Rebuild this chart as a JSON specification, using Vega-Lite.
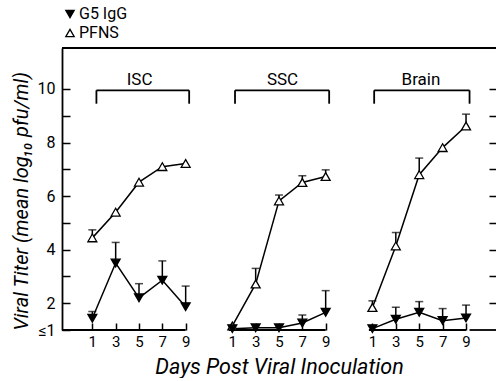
{
  "$schema": "https://vega.github.io/schema/vega-lite/v6.json",
  "padding": {"left": 11, "top": 6, "right": 0, "bottom": 0},
  "background": "white",
  "bounds": "flush",
  "spacing": 0,
  "config": {
    "view": {"stroke": null},
    "font": "Roboto",
    "axis": {
      "grid": false,
      "domainColor": "black",
      "tickColor": "black",
      "labelColor": "black",
      "titleColor": "black",
      "domainWidth": 1.8,
      "ticks": true,
      "tickWidth": 1.5,
      "tickCount": 40,
      "format": "d",
      "labelFont": "Roboto",
      "titleFont": "Roboto",
      "labelFontSize": 15,
      "titleFontSize": 20,
      "titleFontWeight": "normal",
      "titleFontStyle": "italic",
      "labelFlush": false,
      "labelOverlap": false
    }
  },
  "datasets": {
    "titers": [
      {"site": "ISC", "series": "PFNS", "day": 1, "titer": 4.44, "upper": 4.74},
      {"site": "ISC", "series": "PFNS", "day": 3, "titer": 5.40, "upper": null},
      {"site": "ISC", "series": "PFNS", "day": 5, "titer": 6.52, "upper": null},
      {"site": "ISC", "series": "PFNS", "day": 7, "titer": 7.10, "upper": null},
      {"site": "ISC", "series": "PFNS", "day": 9, "titer": 7.22, "upper": null},
      {"site": "ISC", "series": "G5 IgG", "day": 1, "titer": 1.44, "upper": 1.69},
      {"site": "ISC", "series": "G5 IgG", "day": 3, "titer": 3.50, "upper": 4.27},
      {"site": "ISC", "series": "G5 IgG", "day": 5, "titer": 2.20, "upper": 2.73},
      {"site": "ISC", "series": "G5 IgG", "day": 7, "titer": 2.86, "upper": 3.58},
      {"site": "ISC", "series": "G5 IgG", "day": 9, "titer": 1.87, "upper": 2.64},
      {"site": "SSC", "series": "PFNS", "day": 1, "titer": 1.15, "upper": null},
      {"site": "SSC", "series": "PFNS", "day": 3, "titer": 2.72, "upper": 3.30},
      {"site": "SSC", "series": "PFNS", "day": 5, "titer": 5.82, "upper": 6.04},
      {"site": "SSC", "series": "PFNS", "day": 7, "titer": 6.51, "upper": 6.76},
      {"site": "SSC", "series": "PFNS", "day": 9, "titer": 6.73, "upper": 6.98},
      {"site": "SSC", "series": "G5 IgG", "day": 1, "titer": 1.05, "upper": null},
      {"site": "SSC", "series": "G5 IgG", "day": 3, "titer": 1.08, "upper": null},
      {"site": "SSC", "series": "G5 IgG", "day": 5, "titer": 1.08, "upper": null},
      {"site": "SSC", "series": "G5 IgG", "day": 7, "titer": 1.26, "upper": 1.56},
      {"site": "SSC", "series": "G5 IgG", "day": 9, "titer": 1.66, "upper": 2.47},
      {"site": "Brain", "series": "PFNS", "day": 1, "titer": 1.84, "upper": 2.09},
      {"site": "Brain", "series": "PFNS", "day": 3, "titer": 4.14, "upper": 4.64},
      {"site": "Brain", "series": "PFNS", "day": 5, "titer": 6.80, "upper": 7.42},
      {"site": "Brain", "series": "PFNS", "day": 7, "titer": 7.81, "upper": null},
      {"site": "Brain", "series": "PFNS", "day": 9, "titer": 8.62, "upper": 9.06},
      {"site": "Brain", "series": "G5 IgG", "day": 1, "titer": 1.05, "upper": null},
      {"site": "Brain", "series": "G5 IgG", "day": 3, "titer": 1.40, "upper": 1.85},
      {"site": "Brain", "series": "G5 IgG", "day": 5, "titer": 1.66, "upper": 2.06},
      {"site": "Brain", "series": "G5 IgG", "day": 7, "titer": 1.35, "upper": 1.80},
      {"site": "Brain", "series": "G5 IgG", "day": 9, "titer": 1.45, "upper": 1.93}
    ]
  },
  "hconcat": [
    {
      "width": 147,
      "height": 282,
      "layer": [
        {
          "data": {"values": [{}]},
          "mark": {"type": "rule", "color": "black", "strokeWidth": 1.8},
          "encoding": {
            "x": {"datum": -1.6, "type": "quantitative", "scale": {"domain": [-1.6, 11], "nice": false, "zero": false},
              "axis": {"values": [1, 3, 5, 7, 9], "tickCount": 40, "format": "d", "domain": false, "tickSize": -7, "labelPadding": 11, "title": null}},
            "x2": {"datum": 11},
            "y": {"datum": 11.53, "type": "quantitative", "scale": {"domain": [1, 11.53], "nice": false, "zero": false},
              "axis": {"orient": "left", "values": [1, 2, 3, 4, 5, 6, 7, 8, 9, 10], "tickCount": 40, "format": "d",
                "labelExpr": "datum.value == 1 ? '≤1' : (datum.value % 2 == 0 ? datum.label : '')",
                "tickSize": -8, "labelPadding": 15, "labelFontSize": 16,
                "title": "Viral Titer (mean log₁₀ pfu/ml)", "titleAnchor": "start", "titleX": -31}}
          }
        },
        {
          "data": {"values": [{}]},
          "mark": {"type": "rule", "color": "black", "strokeWidth": 1.8},
          "encoding": {"x": {"datum": -1.6}, "x2": {"datum": 9}, "y": {"datum": 1}}
        },
        {
          "data": {"values": [{}]},
          "mark": {"type": "rule", "color": "black", "strokeWidth": 1.8},
          "encoding": {"x": {"datum": 1.35}, "x2": {"datum": 9.3}, "y": {"datum": 9.95}}
        },
        {
          "data": {"values": [{}]},
          "mark": {"type": "rule", "color": "black", "strokeWidth": 1.8},
          "encoding": {"x": {"datum": 1.35}, "y": {"datum": 9.45}, "y2": {"datum": 9.95}}
        },
        {
          "data": {"values": [{}]},
          "mark": {"type": "rule", "color": "black", "strokeWidth": 1.8},
          "encoding": {"x": {"datum": 9.3}, "y": {"datum": 9.45}, "y2": {"datum": 9.95}}
        },
        {
          "data": {"values": [{}]},
          "mark": {"type": "text", "font": "Roboto", "fontSize": 17, "color": "black", "baseline": "middle"},
          "encoding": {"x": {"datum": 5.05}, "y": {"datum": 10.35}, "text": {"value": "ISC"}}
        },
        {
          "data": {"name": "titers"},
          "transform": [{"filter": "datum.site == 'ISC'"}],
          "mark": {"type": "line", "color": "black", "strokeWidth": 1.5},
          "encoding": {"x": {"field": "day", "type": "quantitative"}, "y": {"field": "titer", "type": "quantitative"}, "detail": {"field": "series"}}
        },
        {
          "data": {"name": "titers"},
          "transform": [{"filter": "datum.site == 'ISC' && datum.upper != null"}],
          "mark": {"type": "rule", "color": "black", "strokeWidth": 1.5},
          "encoding": {"x": {"field": "day", "type": "quantitative"}, "y": {"field": "titer", "type": "quantitative"}, "y2": {"field": "upper"}}
        },
        {
          "data": {"name": "titers"},
          "transform": [{"filter": "datum.site == 'ISC' && datum.upper != null"}],
          "mark": {"type": "tick", "orient": "horizontal", "color": "black", "size": 8, "thickness": 1.5},
          "encoding": {"x": {"field": "day", "type": "quantitative"}, "y": {"field": "upper", "type": "quantitative"}}
        },
        {
          "data": {"name": "titers"},
          "transform": [{"filter": "datum.site == 'ISC'"}],
          "mark": {"type": "point", "filled": true, "strokeWidth": 1.3, "size": 80, "opacity": 1},
          "encoding": {
            "x": {"field": "day", "type": "quantitative"},
            "y": {"field": "titer", "type": "quantitative"},
            "shape": {"field": "series", "type": "nominal", "scale": {"domain": ["G5 IgG", "PFNS"], "range": ["triangle-down", "triangle-up"]},
              "legend": {"title": null, "orient": "none", "legendX": 0, "legendY": -42, "labelFont": "Roboto", "labelFontSize": 16, "labelColor": "black", "symbolSize": 70, "symbolStrokeWidth": 1.3, "rowPadding": 3, "padding": 0, "labelOffset": 1}},
            "fill": {"field": "series", "type": "nominal", "scale": {"domain": ["G5 IgG", "PFNS"], "range": ["black", "white"]},
              "legend": {"title": null, "orient": "none", "legendX": 0, "legendY": -42, "labelFont": "Roboto", "labelFontSize": 16, "labelColor": "black", "symbolSize": 70, "symbolStrokeWidth": 1.3, "rowPadding": 3, "padding": 0, "labelOffset": 1}},
            "stroke": {"field": "series", "type": "nominal", "scale": {"domain": ["G5 IgG", "PFNS"], "range": ["black", "black"]},
              "legend": {"title": null, "orient": "none", "legendX": 0, "legendY": -42, "labelFont": "Roboto", "labelFontSize": 16, "labelColor": "black", "symbolSize": 70, "symbolStrokeWidth": 1.3, "rowPadding": 3, "padding": 0, "labelOffset": 1}}
          }
        }
      ]
    },
    {
      "width": 140,
      "height": 282,
      "layer": [
        {
          "data": {"values": [{}]},
          "mark": {"type": "rule", "color": "black", "strokeWidth": 1.8},
          "encoding": {
            "x": {"datum": -1, "type": "quantitative", "scale": {"domain": [-1, 11], "nice": false, "zero": false},
              "axis": {"values": [1, 3, 5, 7, 9], "tickCount": 40, "format": "d", "domain": false, "tickSize": -7, "labelPadding": 11,
                "title": "Days Post Viral Inoculation", "titleFontSize": 21.5, "titlePadding": 7}},
            "x2": {"datum": 11},
            "y": {"datum": 11.53, "type": "quantitative", "scale": {"domain": [1, 11.53], "nice": false, "zero": false}, "axis": null}
          }
        },
        {
          "data": {"values": [{}]},
          "mark": {"type": "rule", "color": "black", "strokeWidth": 1.8},
          "encoding": {"x": {"datum": 0.7}, "x2": {"datum": 9}, "y": {"datum": 1}}
        },
        {
          "data": {"values": [{}]},
          "mark": {"type": "rule", "color": "black", "strokeWidth": 1.8},
          "encoding": {"x": {"datum": 1.23}, "x2": {"datum": 9.3}, "y": {"datum": 9.95}}
        },
        {
          "data": {"values": [{}]},
          "mark": {"type": "rule", "color": "black", "strokeWidth": 1.8},
          "encoding": {"x": {"datum": 1.23}, "y": {"datum": 9.45}, "y2": {"datum": 9.95}}
        },
        {
          "data": {"values": [{}]},
          "mark": {"type": "rule", "color": "black", "strokeWidth": 1.8},
          "encoding": {"x": {"datum": 9.3}, "y": {"datum": 9.45}, "y2": {"datum": 9.95}}
        },
        {
          "data": {"values": [{}]},
          "mark": {"type": "text", "font": "Roboto", "fontSize": 17, "color": "black", "baseline": "middle"},
          "encoding": {"x": {"datum": 5.3}, "y": {"datum": 10.35}, "text": {"value": "SSC"}}
        },
        {
          "data": {"name": "titers"},
          "transform": [{"filter": "datum.site == 'SSC'"}],
          "mark": {"type": "line", "color": "black", "strokeWidth": 1.5},
          "encoding": {"x": {"field": "day", "type": "quantitative"}, "y": {"field": "titer", "type": "quantitative"}, "detail": {"field": "series"}}
        },
        {
          "data": {"name": "titers"},
          "transform": [{"filter": "datum.site == 'SSC' && datum.upper != null"}],
          "mark": {"type": "rule", "color": "black", "strokeWidth": 1.5},
          "encoding": {"x": {"field": "day", "type": "quantitative"}, "y": {"field": "titer", "type": "quantitative"}, "y2": {"field": "upper"}}
        },
        {
          "data": {"name": "titers"},
          "transform": [{"filter": "datum.site == 'SSC' && datum.upper != null"}],
          "mark": {"type": "tick", "orient": "horizontal", "color": "black", "size": 8, "thickness": 1.5},
          "encoding": {"x": {"field": "day", "type": "quantitative"}, "y": {"field": "upper", "type": "quantitative"}}
        },
        {
          "data": {"name": "titers"},
          "transform": [{"filter": "datum.site == 'SSC'"}],
          "mark": {"type": "point", "filled": true, "strokeWidth": 1.3, "size": 80, "opacity": 1},
          "encoding": {
            "x": {"field": "day", "type": "quantitative"},
            "y": {"field": "titer", "type": "quantitative"},
            "shape": {"field": "series", "type": "nominal"},
            "fill": {"field": "series", "type": "nominal"},
            "stroke": {"field": "series", "type": "nominal"}
          }
        }
      ]
    },
    {
      "width": 147,
      "height": 282,
      "layer": [
        {
          "data": {"values": [{}]},
          "mark": {"type": "rule", "color": "black", "strokeWidth": 1.8},
          "encoding": {
            "x": {"datum": -1, "type": "quantitative", "scale": {"domain": [-1, 11.56], "nice": false, "zero": false},
              "axis": {"values": [1, 3, 5, 7, 9], "tickCount": 40, "format": "d", "domain": false, "tickSize": -7, "labelPadding": 11, "title": null}},
            "x2": {"datum": 11.56},
            "y": {"datum": 11.53, "type": "quantitative", "scale": {"domain": [1, 11.53], "nice": false, "zero": false},
              "axis": {"orient": "right", "values": [2, 3, 4, 5, 6, 7, 8, 9, 10], "tickCount": 40, "labels": false, "domain": false, "tickSize": -7, "title": null}}
          }
        },
        {
          "data": {"values": [{}]},
          "mark": {"type": "rule", "color": "black", "strokeWidth": 1.8},
          "encoding": {"x": {"datum": 0.7}, "x2": {"datum": 9}, "y": {"datum": 1}}
        },
        {
          "data": {"values": [{}]},
          "mark": {"type": "rule", "color": "black", "strokeWidth": 1.8},
          "encoding": {"x": {"datum": 9.3}, "x2": {"datum": 11.56}, "y": {"datum": 1}}
        },
        {
          "data": {"values": [{}]},
          "mark": {"type": "rule", "color": "black", "strokeWidth": 1.8},
          "encoding": {"x": {"datum": 1.15}, "x2": {"datum": 9.3}, "y": {"datum": 9.95}}
        },
        {
          "data": {"values": [{}]},
          "mark": {"type": "rule", "color": "black", "strokeWidth": 1.8},
          "encoding": {"x": {"datum": 1.15}, "y": {"datum": 9.45}, "y2": {"datum": 9.95}}
        },
        {
          "data": {"values": [{}]},
          "mark": {"type": "rule", "color": "black", "strokeWidth": 1.8},
          "encoding": {"x": {"datum": 9.3}, "y": {"datum": 9.45}, "y2": {"datum": 9.95}}
        },
        {
          "data": {"values": [{}]},
          "mark": {"type": "text", "font": "Roboto", "fontSize": 17, "color": "black", "baseline": "middle"},
          "encoding": {"x": {"datum": 5.15}, "y": {"datum": 10.35}, "text": {"value": "Brain"}}
        },
        {
          "data": {"name": "titers"},
          "transform": [{"filter": "datum.site == 'Brain'"}],
          "mark": {"type": "line", "color": "black", "strokeWidth": 1.5},
          "encoding": {"x": {"field": "day", "type": "quantitative"}, "y": {"field": "titer", "type": "quantitative"}, "detail": {"field": "series"}}
        },
        {
          "data": {"name": "titers"},
          "transform": [{"filter": "datum.site == 'Brain' && datum.upper != null"}],
          "mark": {"type": "rule", "color": "black", "strokeWidth": 1.5},
          "encoding": {"x": {"field": "day", "type": "quantitative"}, "y": {"field": "titer", "type": "quantitative"}, "y2": {"field": "upper"}}
        },
        {
          "data": {"name": "titers"},
          "transform": [{"filter": "datum.site == 'Brain' && datum.upper != null"}],
          "mark": {"type": "tick", "orient": "horizontal", "color": "black", "size": 8, "thickness": 1.5},
          "encoding": {"x": {"field": "day", "type": "quantitative"}, "y": {"field": "upper", "type": "quantitative"}}
        },
        {
          "data": {"name": "titers"},
          "transform": [{"filter": "datum.site == 'Brain'"}],
          "mark": {"type": "point", "filled": true, "strokeWidth": 1.3, "size": 80, "opacity": 1},
          "encoding": {
            "x": {"field": "day", "type": "quantitative"},
            "y": {"field": "titer", "type": "quantitative"},
            "shape": {"field": "series", "type": "nominal"},
            "fill": {"field": "series", "type": "nominal"},
            "stroke": {"field": "series", "type": "nominal"}
          }
        }
      ]
    }
  ],
  "resolve": {"scale": {"x": "independent", "y": "independent"}}
}
